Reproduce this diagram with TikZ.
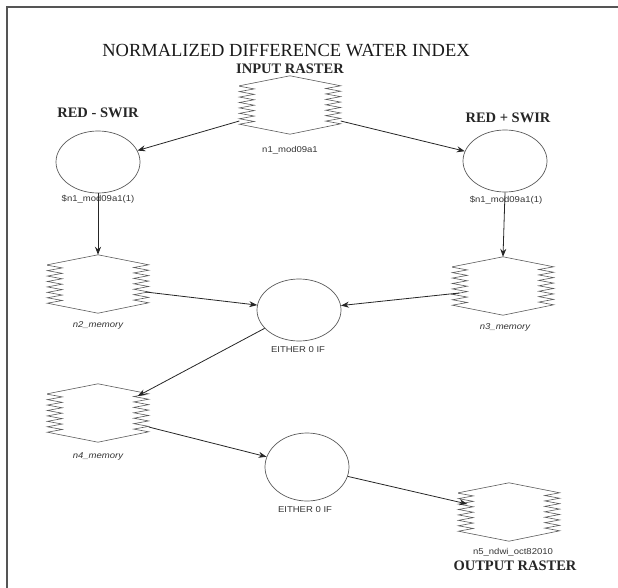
\documentclass[tikz,border=0pt]{standalone}
\usepackage{fontspec}
\usepackage{graphicx}
\setmainfont{Liberation Serif}
\newfontfamily\lblfont{Liberation Sans}
\usetikzlibrary{shapes.geometric,calc,arrows.meta}
\definecolor{linegray}{HTML}{5A5A5A}
\definecolor{framegray}{HTML}{555555}
\tikzset{
  hexnode/.style={rectangle, draw=none, minimum width=101pt, minimum height=58pt, inner sep=0pt},
  circnode/.style={ellipse, draw=linegray, line width=0.7pt, minimum width=84pt, minimum height=62pt, inner sep=0pt},
  hexline/.style={draw=linegray, line width=0.6pt, line join=miter},
  conn/.style={draw=black!85, line width=0.8pt, -{Stealth[length=8pt,width=6pt]}},
  small/.style={font=\lblfont\fontsize{8.5}{10}\selectfont, text=black!80, inner sep=0pt},
  smallit/.style={small, font=\lblfont\itshape\fontsize{8.5}{10}\selectfont},
  head/.style={font=\bfseries\fontsize{14.5}{16}\selectfont, text=black!85, inner sep=0pt},
}
\newcommand\hexdraw[1]{%
  \draw[hexline] ($(#1.north west)+(0,10)$) -- (#1.north) -- ($(#1.north east)+(0,10)$)
    \foreach \i in {1,...,7}{ -- ++(-15,2.714) -- ++(15,2.714)}
    -- (#1.south) -- ($(#1.south west)+(0,-10)$)
    \foreach \i in {1,...,7}{ -- ++(15,-2.714) -- ++(-15,-2.714)} -- cycle;}
\begin{document}
\begin{tikzpicture}[x=1pt,y=-1pt]
\useasboundingbox (0,0) rectangle (618,588);
\draw[framegray, line width=2pt] (6.5,600) -- (6.5,7) -- (630,7);

% titles
\node[inner sep=0pt, text=black!90] (title) at (286,51)
  {\fontsize{18.5}{20}\selectfont NORMALIZED DIFFERENCE WATER INDEX};
\node[head] (tin) at (290,69) {INPUT RASTER};
\node[head] (tred1) at (98,113) {RED - SWIR};
\node[head] (tred2) at (508,118) {RED + SWIR};
\node[head] (tout) at (515,566) {OUTPUT RASTER};

% hexagon nodes
\node[hexnode] (n1) at (290,105) {};
\node[hexnode] (n2) at (98,284) {};
\node[hexnode] (n3) at (503,286) {};
\node[hexnode] (n4) at (98,413) {};
\node[hexnode] (n5) at (509,512) {};
\hexdraw{n1}
\hexdraw{n2}
\hexdraw{n3}
\hexdraw{n4}
\hexdraw{n5}

% circle nodes
\node[circnode] (c1) at (98,162) {};
\node[circnode] (c2) at (505,161) {};
\node[circnode] (e1) at (299,310) {};
\node[circnode, minimum height=68pt] (e2) at (307,467) {};

% small labels
\node[small] (l1) at (290,150) {\scalebox{1.12}[1]{n1\_mod09a1}};
\node[small] (l2) at (98,199) {\scalebox{1.12}[1]{\$n1\_mod09a1(1)}};
\node[small] (l3) at (506,200) {\scalebox{1.12}[1]{\$n1\_mod09a1(1)}};
\node[smallit] (l4) at (98,325) {\scalebox{1.12}[1]{n2\_memory}};
\node[smallit] (l5) at (505,327) {\scalebox{1.12}[1]{n3\_memory}};
\node[small] (l6) at (298,350) {\scalebox{1.12}[1]{EITHER 0 IF}};
\node[smallit] (l7) at (98,456) {\scalebox{1.12}[1]{n4\_memory}};
\node[small] (l8) at (305,510) {\scalebox{1.12}[1]{EITHER 0 IF}};
\node[small] (l9) at (513,552) {\scalebox{1.12}[1]{n5\_ndwi\_oct82010}};

% connectors
\draw[conn] ($(n1.west)+(0,16)$) -- (c1);
\draw[conn] ($(n1.east)+(0,16)$) -- (c2);
\draw[conn] (c1.south) -- (n2.north);
\draw[conn] (c2.south) -- (n3.north);
\draw[conn] ($(n2.east)+(-3,8)$) -- (e1);
\draw[conn] ($(n3.west)+(7,7)$) -- (e1);
\draw[conn] (e1) -- ($(n4.east)+(-11,-17)$);
\draw[conn] ($(n4.east)+(0,14)$) -- (e2);
\draw[conn] (e2) -- ($(n5.west)+(9,-8)$);
\end{tikzpicture}
\end{document}
